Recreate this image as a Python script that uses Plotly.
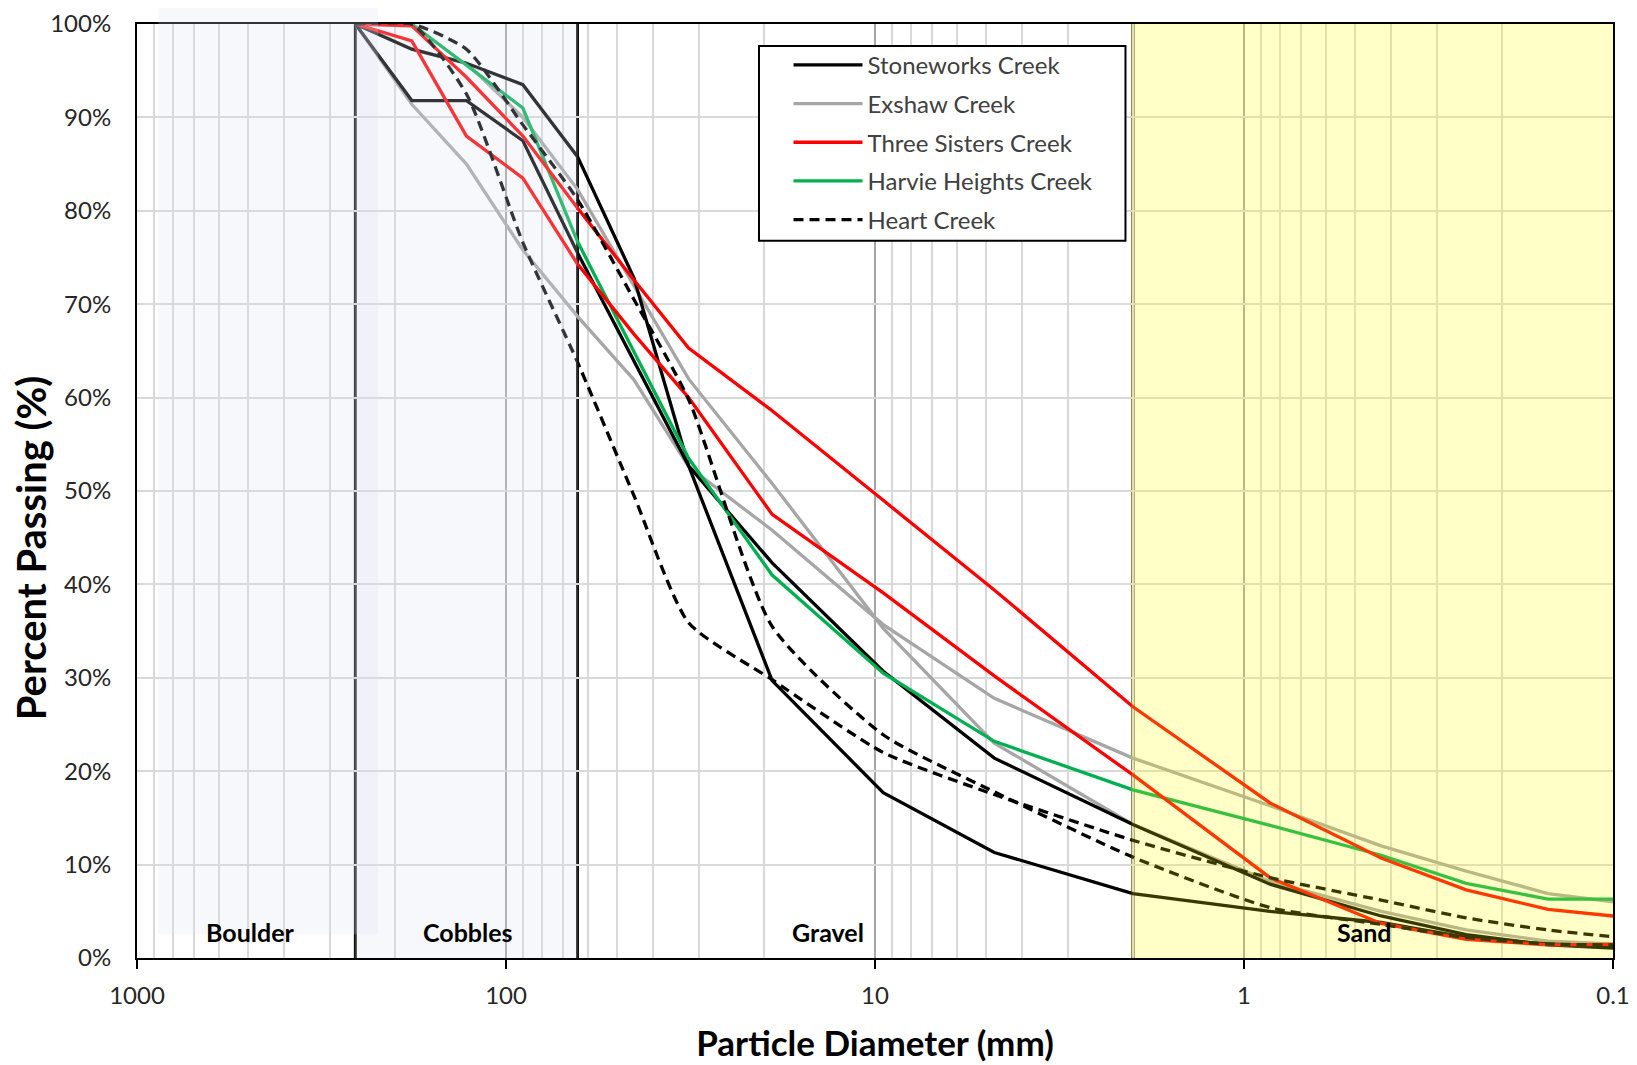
import math
import plotly.graph_objects as go

# ---------------- data ----------------
SIZES_MM = [256, 180, 128, 90, 64, 45, 32, 19, 9.5, 4.75, 2, 0.85, 0.425, 0.25, 0.15, 0.075]

STONEWORKS_A = [100, 91.8, 91.8, 87.5, 75.5, 64.0, 52.7, 42.3, 30.7, 21.4, 14.3, 7.9, 4.5, 2.5, 1.4, 0.8]
STONEWORKS_B = [100, 97.3, 95.8, 93.5, 85.8, 72.8, 52.7, 29.7, 17.7, 11.3, 6.9, 5.0, 3.8, 2.2, 1.5, 1.0]
EXSHAW_A = [100, 91.4, 85.0, 75.8, 68.7, 61.9, 52.6, 45.8, 35.7, 27.8, 21.4, 16.3, 12.0, 9.3, 6.9, 5.4]
EXSHAW_B = [100, 97.3, 95.8, 90.0, 82.3, 72.0, 62.0, 50.8, 35.3, 23.0, 14.3, 8.2, 5.0, 3.0, 1.8, 1.3]
THREE_SISTERS_A = [100, 99.8, 94.3, 88.0, 80.3, 72.6, 65.3, 58.6, 49.0, 39.4, 26.9, 16.6, 10.7, 7.3, 5.2, 4.0]
THREE_SISTERS_B = [100, 98.2, 88.0, 83.5, 74.3, 66.8, 60.0, 47.5, 39.1, 30.2, 19.6, 8.6, 3.7, 2.0, 1.4, 1.5]
HARVIE_HEIGHTS = [100, 100, 95.6, 91.0, 76.7, 65.0, 53.5, 41.0, 30.5, 23.2, 18.0, 14.2, 11.0, 8.0, 6.3, 6.3]
HEART_A = [100, 100, 92.5, 76.6, 63.8, 49.5, 35.9, 29.8, 22.0, 17.5, 12.6, 8.6, 6.2, 4.3, 3.0, 1.8]
HEART_B = [100, 100, 97.3, 89.2, 81.2, 70.5, 59.8, 35.5, 23.9, 17.8, 10.8, 5.4, 3.6, 2.2, 1.5, 1.4]

CLASS_BOUNDARIES_MM = [256, 64, 2]
CLASS_NAMES = ["Boulder", "Cobbles", "Gravel", "Sand"]
X_TICKS = [1000, 100, 10, 1, 0.1]
X_TICK_TEXT = ["1000", "100", "10", "1", "0.1"]
Y_TICKS = [0, 10, 20, 30, 40, 50, 60, 70, 80, 90, 100]
Y_TICK_TEXT = [f"{v}%" for v in Y_TICKS]

# ---------------- styles ----------------
FONT = "Lato"
C_BLACK = "#000000"
C_GRAY = "#A6A6A6"
C_RED = "#FF0000"
C_GREEN = "#00B050"
LW = 3.3

fig = go.Figure()

def add(name, y, color, dash, rank, show, shape="linear"):
    fig.add_trace(go.Scatter(
        x=SIZES_MM, y=y, mode="lines", name=name,
        legendgroup=name, showlegend=show, legendrank=rank,
        line=dict(color=color, width=LW, dash=dash, shape=shape,
                  smoothing=0.6 if shape == "spline" else None),
        hoverinfo="skip",
    ))

add("Exshaw Creek", EXSHAW_A, C_GRAY, "solid", 2, True)
add("Exshaw Creek", EXSHAW_B, C_GRAY, "solid", 2, False)
add("Stoneworks Creek", STONEWORKS_A, C_BLACK, "solid", 1, True)
add("Stoneworks Creek", STONEWORKS_B, C_BLACK, "solid", 1, False)
add("Harvie Heights Creek", HARVIE_HEIGHTS, C_GREEN, "solid", 4, True)
add("Three Sisters Creek", THREE_SISTERS_A, C_RED, "solid", 3, True)
add("Three Sisters Creek", THREE_SISTERS_B, C_RED, "solid", 3, False)
add("Heart Creek", HEART_A, C_BLACK, "10px,6px", 5, True, "spline")
add("Heart Creek", HEART_B, C_BLACK, "10px,6px", 5, False, "spline")

# minor grid positions (2..9 x decade)
minor_vals = []
for dec in [100, 10, 1, 0.1]:
    for m in range(2, 10):
        minor_vals.append(m * dec)

shapes = []
# class boundary lines (under data)
for b in CLASS_BOUNDARIES_MM:
    shapes.append(dict(type="line", xref="x", yref="y", x0=b, x1=b, y0=0, y1=100,
                       line=dict(color="#111111", width=3), layer="below"))
# boulder shade (semi-transparent, above)
shapes.append(dict(type="rect", xref="x", yref="paper", x0=875, x1=222, y0=0.0255, y1=1.03,
                   fillcolor="rgb(221,225,242)", opacity=0.23, line=dict(width=0), layer="above"))
# cobbles shade
shapes.append(dict(type="rect", xref="x", yref="y", x0=CLASS_BOUNDARIES_MM[0], x1=CLASS_BOUNDARIES_MM[1],
                   y0=0, y1=100, fillcolor="rgb(221,225,242)", opacity=0.23,
                   line=dict(width=0), layer="above"))
# sand shade
shapes.append(dict(type="rect", xref="x", yref="y", x0=CLASS_BOUNDARIES_MM[2] * 1.01, x1=X_TICKS[-1],
                   y0=0, y1=100, fillcolor="rgb(255,255,0)", opacity=0.22,
                   line=dict(width=0), layer="above"))
# legend frame
shapes.append(dict(type="rect", xref="paper", yref="paper", x0=0.4214, x1=0.6697, y0=0.7678, y1=0.97646,
                   fillcolor="white", line=dict(color="#000000", width=2), layer="above"))

label_x_mm = [492, 127, 13.4, 0.472]
annotations = []
for name, xm in zip(CLASS_NAMES, label_x_mm):
    annotations.append(dict(x=math.log10(xm), y=2.8, xref="x", yref="y", text=f"<b>{name}</b>",
                            showarrow=False, font=dict(family=FONT, size=25, color="#000000"),
                            xanchor="center", yanchor="middle"))
# y-axis title (placed lower than centre, as in the original)
annotations.append(dict(x=-0.0716, y=0.439, xref="paper", yref="paper", text="<b>Percent Passing (%)</b>",
                        textangle=-90, showarrow=False, xanchor="center", yanchor="middle",
                        font=dict(family=FONT, size=40, color="#000000")))

fig.update_layout(
    width=1629, height=1057,
    margin=dict(l=129, r=24, t=16, b=107),
    paper_bgcolor="white", plot_bgcolor="white",
    font=dict(family=FONT, color="#262626"),
    shapes=shapes, annotations=annotations,
    showlegend=True,
    legend=dict(x=0.4414, y=0.9799, xanchor="left", yanchor="top",
                bgcolor="rgba(0,0,0,0)", borderwidth=0,
                font=dict(family=FONT, size=24, color="#404040"),
                tracegroupgap=4.5, itemwidth=69, traceorder="grouped"),
    xaxis=dict(type="log", range=[3, -1], tickvals=X_TICKS, ticktext=X_TICK_TEXT,
               ticks="outside", ticklen=9, tickwidth=2, tickcolor="#000000",
               tickfont=dict(family=FONT, size=24, color="#262626"),
               ticklabelstandoff=6, automargin=False, ticklabeloverflow="allow",
               showgrid=True, gridcolor="#A6A6A6", gridwidth=1.5,
               minor=dict(tickvals=minor_vals, showgrid=True, gridcolor="#D9D9D9", gridwidth=1.5, ticks=""),
               showline=True, linecolor="#000000", linewidth=2, mirror=True,
               zeroline=False,
               title=dict(text="<b>Particle Diameter (mm)</b>", standoff=24,
                          font=dict(family=FONT, size=35, color="#000000"))),
    yaxis=dict(range=[0, 100], tickvals=Y_TICKS, ticktext=Y_TICK_TEXT,
               ticks="", tickfont=dict(family=FONT, size=24, color="#262626"),
               ticklabelstandoff=19, automargin=False, ticklabeloverflow="allow",
               showgrid=True, gridcolor="#D9D9D9", gridwidth=1.5,
               showline=True, linecolor="#000000", linewidth=2, mirror=True,
               zeroline=False),
)

fig.write_html("out.html")
